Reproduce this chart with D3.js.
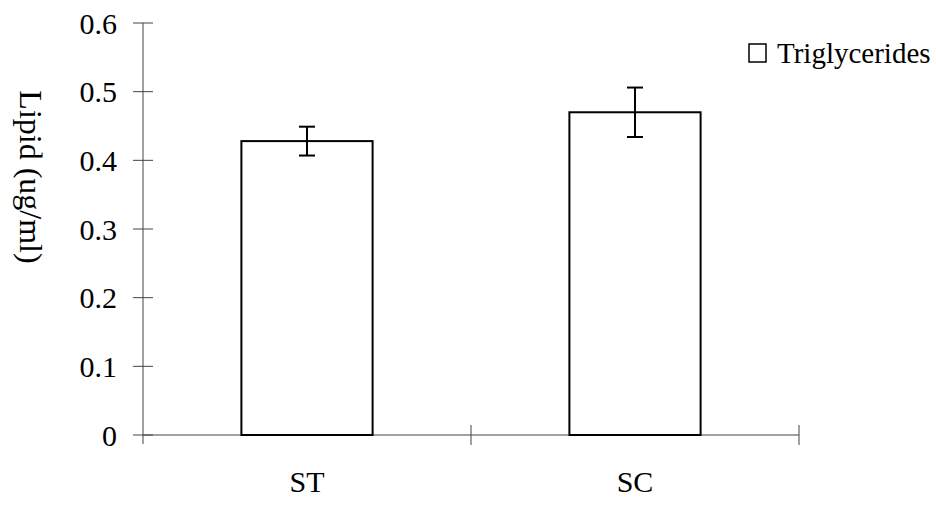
<!DOCTYPE html>
<html>
<head>
<meta charset="utf-8">
<script src="https://cdn.jsdelivr.net/npm/d3@7"></script>
<style>
  html, body { margin: 0; padding: 0; background: #fff; }
  svg { display: block; }
  svg text { font-family: 'Liberation Serif', 'Times New Roman', serif; }
</style>
</head>
<body>
<svg id="chart" width="937" height="506"></svg>
<script>
// Triglyceride content per group, with error bars
const categories = ["ST", "SC"];
const values = [0.428, 0.470];
const errors = [0.021, 0.036];
const yTicks = [0, 0.1, 0.2, 0.3, 0.4, 0.5, 0.6];
const seriesName = "Triglycerides";
const yTitle = "Lipid (ug/ml)";

(function draw() {
  const svg = d3.select("#chart");
  const plotLeft = 143, plotRight = 799, plotTop = 23, plotBottom = 435;
  const fontSize = 30;
  const serif = "'Liberation Serif', 'Times New Roman', serif";

  const x = d3.scaleBand().domain(categories).range([plotLeft, plotRight]).padding(0);
  const y = d3.scaleLinear().domain([0, 0.6]).range([plotBottom, plotTop]);

  const axisColor = "#444";

  // Y axis: line plus ticks crossing both sides
  svg.append("line")
    .attr("x1", plotLeft).attr("x2", plotLeft)
    .attr("y1", y(0.6)).attr("y2", plotBottom + 9)
    .attr("stroke", axisColor).attr("stroke-width", 1);

  svg.selectAll(".ytick").data(yTicks).enter().append("line")
    .attr("x1", plotLeft - 10).attr("x2", plotLeft + 10)
    .attr("y1", d => y(d)).attr("y2", d => y(d))
    .attr("stroke", axisColor).attr("stroke-width", 1);

  svg.selectAll(".ylabel").data(yTicks).enter().append("text")
    .attr("x", plotLeft - 26)
    .attr("y", d => y(d))
    .attr("dy", "0.35em")
    .attr("text-anchor", "end")
    .attr("font-family", serif)
    .attr("font-size", fontSize)
    .attr("fill", "#000")
    .text(d => String(d));

  // X axis: baseline and band-boundary ticks
  svg.append("line")
    .attr("x1", plotLeft).attr("x2", plotRight)
    .attr("y1", plotBottom).attr("y2", plotBottom)
    .attr("stroke", axisColor).attr("stroke-width", 1);

  const bounds = categories.map(c => x(c)).concat([x(categories[categories.length - 1]) + x.bandwidth()]);
  svg.selectAll(".xtick").data(bounds.slice(1)).enter().append("line")
    .attr("x1", d => d).attr("x2", d => d)
    .attr("y1", plotBottom - 10).attr("y2", plotBottom + 10)
    .attr("stroke", axisColor).attr("stroke-width", 1);

  svg.selectAll(".xlabel").data(categories).enter().append("text")
    .attr("x", d => x(d) + x.bandwidth() / 2)
    .attr("y", 492)
    .attr("text-anchor", "middle")
    .attr("font-family", serif)
    .attr("font-size", fontSize)
    .attr("fill", "#000")
    .text(d => d);

  // Bars
  const barFrac = 0.4;
  const bw = x.bandwidth() * barFrac;
  svg.selectAll(".bar").data(categories).enter().append("rect")
    .attr("x", d => x(d) + (x.bandwidth() - bw) / 2)
    .attr("width", bw)
    .attr("y", (d, i) => y(values[i]))
    .attr("height", (d, i) => plotBottom - y(values[i]))
    .attr("fill", "#fff")
    .attr("stroke", "#000")
    .attr("stroke-width", 2);

  // Error bars
  const cap = 8;
  const cx = d => x(d) + x.bandwidth() / 2;
  const eb = svg.selectAll(".err").data(categories).enter().append("g");
  eb.append("line")
    .attr("x1", cx).attr("x2", cx)
    .attr("y1", (d, i) => y(values[i] + errors[i]))
    .attr("y2", (d, i) => y(values[i] - errors[i]))
    .attr("stroke", "#000").attr("stroke-width", 2);
  eb.append("line")
    .attr("x1", d => cx(d) - cap).attr("x2", d => cx(d) + cap)
    .attr("y1", (d, i) => y(values[i] + errors[i])).attr("y2", (d, i) => y(values[i] + errors[i]))
    .attr("stroke", "#000").attr("stroke-width", 2);
  eb.append("line")
    .attr("x1", d => cx(d) - cap).attr("x2", d => cx(d) + cap)
    .attr("y1", (d, i) => y(values[i] - errors[i])).attr("y2", (d, i) => y(values[i] - errors[i]))
    .attr("stroke", "#000").attr("stroke-width", 2);

  // Y axis title
  svg.append("text")
    .attr("transform", "translate(31,177) rotate(90)")
    .attr("text-anchor", "middle")
    .attr("dy", "0.35em")
    .attr("font-family", serif)
    .attr("font-size", 32)
    .attr("fill", "#000")
    .text(yTitle);

  // Legend
  const legend = svg.append("g").attr("transform", "translate(749,44)");
  legend.append("rect")
    .attr("x", 0).attr("y", 0).attr("width", 17).attr("height", 18)
    .attr("fill", "#fff").attr("stroke", "#000").attr("stroke-width", 1.5);
  legend.append("text")
    .attr("x", 28).attr("y", 19)
    .attr("font-family", serif)
    .attr("font-size", 29)
    .attr("fill", "#000")
    .text(seriesName);
})();
</script>
</body>
</html>
